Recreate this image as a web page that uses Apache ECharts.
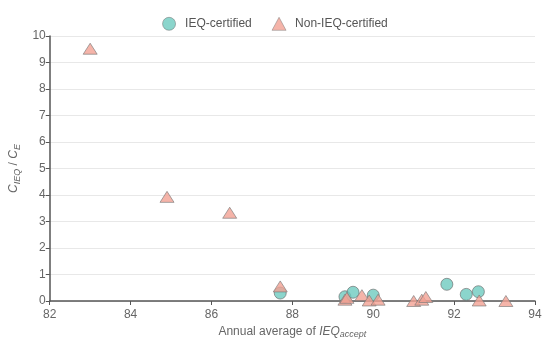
<!DOCTYPE html>
<html><head><meta charset="utf-8">
<script src="https://cdn.jsdelivr.net/npm/echarts@6/dist/echarts.min.js"></script>
<style>html,body{margin:0;padding:0;background:#fff}#c{width:550px;height:345px}</style>
</head><body><div id="c"></div>
<script>
const seriesNames = ['IEQ-certified', 'Non-IEQ-certified'];
const ieqX = [87.7, 89.3, 89.5, 90.0, 91.82, 92.3, 92.6];
const ieqY = [0.30, 0.16, 0.33, 0.22, 0.63, 0.25, 0.35];
const nonX = [83.0, 84.9, 86.45, 87.7, 89.3, 89.35, 89.72, 89.9, 90.12, 91.0, 91.2, 91.3, 92.62, 93.28];
const nonY = [9.52, 3.93, 3.33, 0.55, 0.05, 0.12, 0.22, 0.02, 0.05, 0.0, 0.05, 0.15, 0.02, 0.0];
const xTicks = [82, 84, 86, 88, 90, 92, 94];
const yTicks = [0, 1, 2, 3, 4, 5, 6, 7, 8, 9, 10];

const chart = echarts.init(document.getElementById('c'));
const axisColor = '#555';
const labelColor = '#666';
chart.setOption({
  animation: false,
  legend: {
    top: 12, left: 'center', itemGap: 20, itemWidth: 14, itemHeight: 13,
    itemStyle: { borderWidth: 0.6 },
    textStyle: { color: '#555', fontSize: 12, fontFamily: 'Liberation Sans, Arial', padding: [0, 0, 0, 4] },
    data: seriesNames
  },
  grid: { left: 49, right: 15, top: 36, bottom: 44 },
  xAxis: {
    type: 'value', min: xTicks[0], max: xTicks[xTicks.length - 1], interval: 2,
    name: '{n|Annual average of }{i|IEQ}{s|accept}',
    nameLocation: 'middle', nameGap: 20,
    nameTextStyle: {
      rich: {
        n: { color: '#666', fontSize: 12, fontFamily: 'Liberation Sans, Arial' },
        i: { color: '#666', fontSize: 12, fontStyle: 'italic', fontFamily: 'Liberation Sans, Arial' },
        s: { color: '#666', fontSize: 9, fontStyle: 'italic', fontFamily: 'Liberation Sans, Arial', padding: [6, 0, 0, 0] }
      }
    },
    axisLine: { lineStyle: { color: axisColor, width: 1.5 } },
    axisTick: { lineStyle: { color: axisColor }, length: 4 },
    axisLabel: { color: labelColor, fontSize: 12, margin: 8, fontFamily: 'Liberation Sans, Arial' },
    splitLine: { show: false }
  },
  yAxis: {
    type: 'value', min: yTicks[0], max: yTicks[yTicks.length - 1], interval: 1,
    name: '{i|C}{s|IEQ}{n| / }{i|C}{s|E}',
    nameLocation: 'middle', nameGap: 26, nameRotate: 90,
    nameTextStyle: {
      rich: {
        n: { color: '#666', fontSize: 12, fontFamily: 'Liberation Sans, Arial' },
        i: { color: '#666', fontSize: 12, fontStyle: 'italic', fontFamily: 'Liberation Sans, Arial' },
        s: { color: '#666', fontSize: 9, fontStyle: 'italic', fontFamily: 'Liberation Sans, Arial', padding: [6, 0, 0, 0] }
      }
    },
    axisLine: { show: true, lineStyle: { color: axisColor, width: 1.5 } },
    axisTick: { show: true, lineStyle: { color: axisColor }, length: 4 },
    axisLabel: { color: labelColor, fontSize: 12, margin: 4, fontFamily: 'Liberation Sans, Arial' },
    splitLine: { lineStyle: { color: '#e8e8e8' } }
  },
  series: [
    {
      name: seriesNames[0], type: 'scatter', symbol: 'circle', symbolSize: 12,
      itemStyle: { color: '#6ecabf', borderColor: '#666', borderWidth: 0.8 },
      data: ieqX.map((x, i) => [x, ieqY[i]])
    },
    {
      name: seriesNames[1], type: 'scatter', symbol: 'triangle', symbolSize: [14, 11],
      itemStyle: { color: '#f3a193', borderColor: '#777', borderWidth: 0.8 },
      data: nonX.map((x, i) => [x, nonY[i]])
    }
  ]
});
</script></body></html>
